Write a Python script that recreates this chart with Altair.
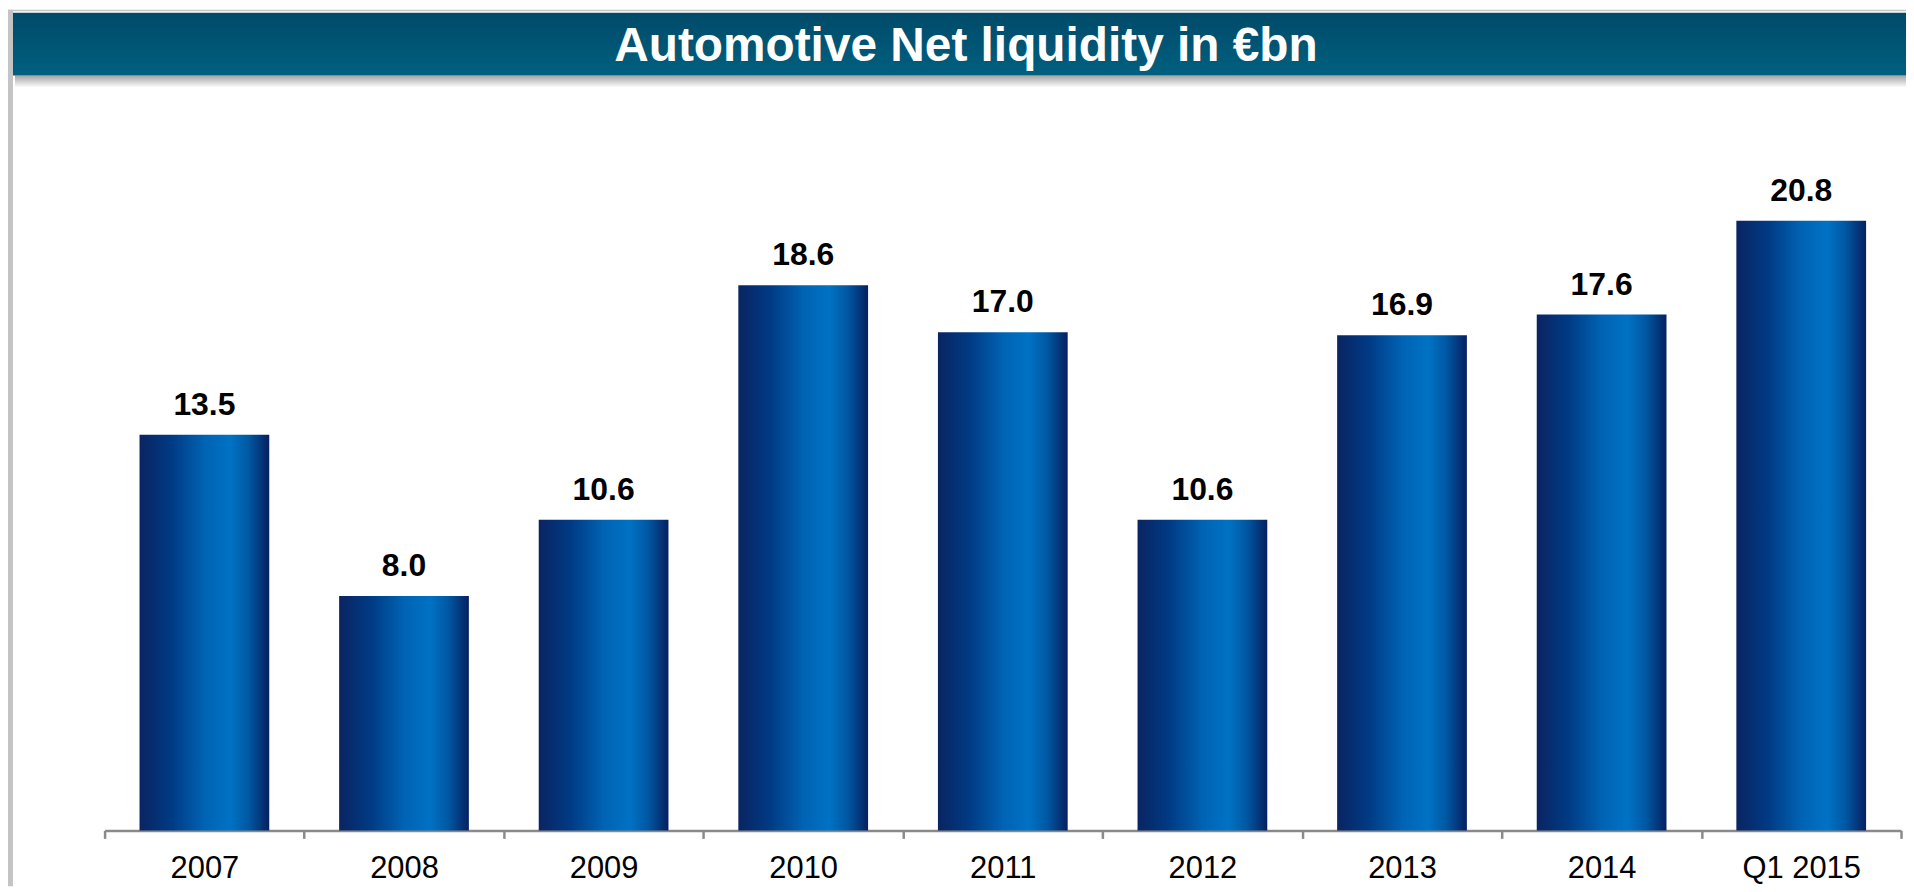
import altair as alt
import pandas as pd

categories = ["2007", "2008", "2009", "2010", "2011", "2012", "2013", "2014", "Q1 2015"]
values = [13.5, 8.0, 10.6, 18.6, 17.0, 10.6, 16.9, 17.6, 20.8]
title_text = "Automotive Net liquidity in €bn"

df = pd.DataFrame({"cat": categories, "val": values})
FONT = "Liberation Sans"
W, H = 1804, 824

bar_grad = alt.LinearGradient(
    gradient="linear", x1=0, x2=1, y1=0, y2=0,
    stops=[
        alt.GradientStop(color="#0a2462", offset=0),
        alt.GradientStop(color="#003b85", offset=0.25),
        alt.GradientStop(color="#0063b3", offset=0.5),
        alt.GradientStop(color="#0072c4", offset=0.7),
        alt.GradientStop(color="#0058a3", offset=0.84),
        alt.GradientStop(color="#062060", offset=1),
    ],
)
banner_grad = alt.LinearGradient(
    gradient="linear", x1=0, x2=0, y1=0, y2=1,
    stops=[
        alt.GradientStop(color="#004a69", offset=0),
        alt.GradientStop(color="#00607f", offset=1),
    ],
)
shadow_grad = alt.LinearGradient(
    gradient="linear", x1=0, x2=0, y1=0, y2=1,
    stops=[
        alt.GradientStop(color="#8c8c8c", offset=0),
        alt.GradientStop(color="#ffffff", offset=1),
    ],
)

xenc = alt.X("cat:N", sort=categories,
             scale=alt.Scale(paddingInner=0, paddingOuter=0),
             axis=alt.Axis(title=None, labelAngle=0, tickBand="extent", grid=False,
                           domainColor="#8a8a8a", domainWidth=2.5, tickColor="#8a8a8a",
                           tickWidth=2.5, tickSize=8, labelPadding=15, labelFont=FONT,
                           labelFontSize=31, labelColor="#000000"))
yenc = alt.Y("val:Q", scale=alt.Scale(domain=[0, 28], nice=False, zero=True), axis=None)

bars = alt.Chart(df).mark_bar(fill=bar_grad, width=alt.RelativeBandSize(0.65)).encode(x=xenc, y=yenc)
labels = alt.Chart(df).mark_text(font=FONT, fontSize=32, fontWeight="bold", color="#000000",
                                 baseline="alphabetic", dy=-20).encode(
    x=alt.X("cat:N", sort=categories), y="val:Q", text=alt.Text("val:Q", format=".1f"))

one = alt.Data(values=[{"a": 1}])
left_border = alt.Chart(one).mark_rect(fill="#c4c4c4").encode(
    x=alt.value(-97), x2=alt.value(-92), y=alt.value(0), y2=alt.value(880))
top_border = alt.Chart(one).mark_rect(fill="#c4c4c4").encode(
    x=alt.value(-97), x2=alt.value(1809), y=alt.value(0), y2=alt.value(1.5))
shadow = alt.Chart(one).mark_rect(fill=shadow_grad, opacity=0.8).encode(
    x=alt.value(-90), x2=alt.value(1809), y=alt.value(66), y2=alt.value(78))
banner = alt.Chart(one).mark_rect(fill=banner_grad).encode(
    x=alt.value(-92), x2=alt.value(1809), y=alt.value(3), y2=alt.value(66))
title = alt.Chart(one).mark_text(font=FONT, fontSize=48, fontWeight="bold", color="#ffffff",
                                 align="center", baseline="alphabetic").encode(
    x=alt.value(865), y=alt.value(51), text=alt.value(title_text))

chart = alt.layer(left_border, top_border, shadow, banner, title, bars, labels).properties(
    width=W, height=H,
    background="#ffffff",
    autosize=alt.AutoSizeParams(type="none"),
    padding={"left": 97, "top": 0, "right": 5, "bottom": 56},
).configure_view(stroke=None)

chart.save("out.html", embed_options={"renderer": "svg", "actions": False})
